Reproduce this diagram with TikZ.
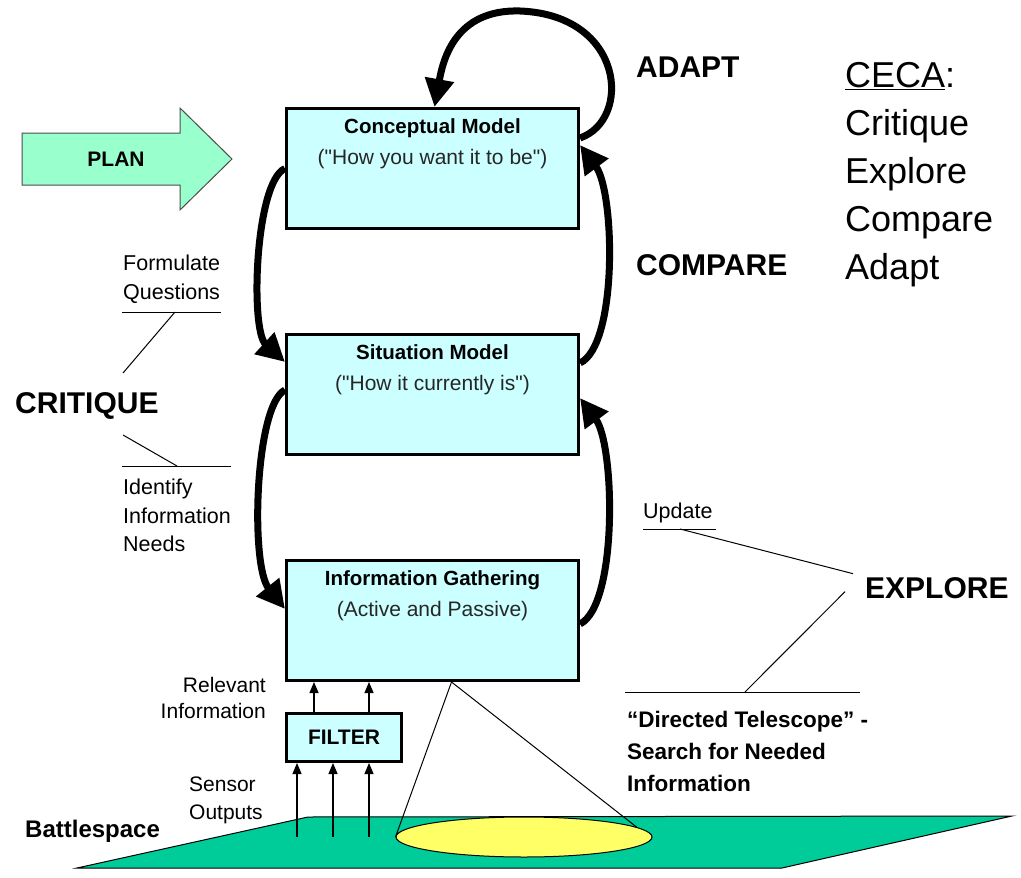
\documentclass[tikz,border=0pt]{standalone}
\usepackage{fontspec}
\setmainfont{Liberation Sans}
\usetikzlibrary{positioning,arrows.meta,shapes.geometric}
\definecolor{boxfill}{HTML}{CCFFFF}
\definecolor{planfill}{HTML}{99FFCC}
\definecolor{fieldfill}{HTML}{00CC99}
\definecolor{spotfill}{HTML}{FFFF66}
\begin{document}
\begin{tikzpicture}[x=1pt, y=-1pt, node distance={103pt},
  box/.style = {draw, line width=3pt, fill=boxfill, minimum width=292pt, minimum height=120pt},
  boxtext/.style = {align=center, inner sep=0pt, text=black!85, font=\fontsize{21}{31}\selectfont},
  filterbox/.style = {draw, line width=3pt, fill=boxfill, minimum width=115pt, minimum height=48pt, font=\bfseries\fontsize{21}{25}\selectfont},
  loop/.style = {line width=7pt, -{Triangle[length=28pt,width=28pt]}},
  sensor/.style = {line width=1.3pt, -{Triangle[length=11pt,width=9pt]}},
  pointer/.style = {line width=1pt},
  note/.style = {inner sep=0pt, align=left, font=\fontsize{21.5}{28.5}\selectfont},
  big/.style = {inner sep=0pt, font=\bfseries\fontsize{30}{36}\selectfont}]
\useasboundingbox (0,0) rectangle (1021,878);

% battlespace
\draw[fill=fieldfill, line width=1pt] (77,868) -- (308,817) -- (1012,816) -- (782,868) -- cycle;
\node[ellipse, draw, fill=spotfill, line width=1pt, inner sep=0pt, minimum width=256pt, minimum height=40pt] (spot) at (524,837) {};
\node[inner sep=0pt, anchor=base west, font=\bfseries\fontsize{24}{28}\selectfont] (field) at (25,837) {Battlespace};

% plan arrow
\draw[fill=planfill, draw=black!70, line width=1pt] (22,133) -- (180,133) -- (180,108) -- (232,159) -- (180,210) -- (180,185) -- (22,185) -- cycle;
\node[inner sep=0pt, font=\bfseries\fontsize{21}{25}\selectfont] (plan) at (116,159) {PLAN};

% model boxes
\node[box] (1) at (432.5,168.5) {};
\node[box] (2) [below=of 1] {};
\node[box] (3) [below=of 2] {};
\node[filterbox] (4) [below=30pt of 3.south west, anchor=north west] {FILTER};
\node[boxtext] (1t) [below=11pt of 1.north] {{\color{black}\bfseries\fontsize{20.5}{31}\selectfont Conceptual Model}\\(\textquotedbl How you want it to be\textquotedbl)};
\node[boxtext] (2t) [below=11pt of 2.north] {{\color{black}\bfseries\fontsize{20.5}{31}\selectfont Situation Model}\\(\textquotedbl How it currently is\textquotedbl)};
\node[boxtext] (3t) [below=11pt of 3.north] {{\color{black}\bfseries\fontsize{20.5}{31}\selectfont Information Gathering}\\(Active and Passive)};

% loops
\draw[loop] ([yshift=-31pt]1.north east) .. controls (632,120) and (625,15) .. (520,11) .. controls (455,9) and (443,60) .. ([xshift=2pt]1.north);
\draw[loop] (1.west) .. controls (255,182) and (250,330) .. ([yshift=-29pt]2.north west);
\draw[loop] ([yshift=-57pt]2.north west) .. controls (255,405) and (250,565) .. ([yshift=-50pt]3.north west);
\draw[loop] ([yshift=-65pt]3.north east) .. controls (618,605) and (615,445) .. ([yshift=-65pt]2.north east);
\draw[loop] ([yshift=-30pt]2.north east) .. controls (618,345) and (615,192) .. ([yshift=-38pt]1.north east);

% sensors and filter
\coordinate (g1) at (297,837);
\coordinate (g2) at (333,837);
\coordinate (g3) at (369,837);
\coordinate (r1) at (314,0);
\coordinate (r2) at (369,0);
\draw[sensor] (g1) -- (g1 |- 4.south);
\draw[sensor] (g2) -- (g2 |- 4.south);
\draw[sensor] (g3) -- (g3 |- 4.south);
\draw[sensor] (r1 |- 4.north) -- (r1 |- 3.south);
\draw[sensor] (r2 |- 4.north) -- (r2 |- 3.south);
\node[note, align=right, anchor=north east, font=\fontsize{21}{26}\selectfont] (relevant) at (266,677) {Relevant\\Information};
\node[note, anchor=north west, font=\fontsize{21}{28}\selectfont] (sensors) at (189,777) {Sensor\\Outputs};

% telescope
\coordinate (apex) at ([xshift=19pt]3.south);
\draw[pointer] (apex) -- (spot.west);
\draw[pointer] (apex) -- (spot.5);

% critique
\node[note, anchor=north west] (formulate) at (123,255) {Formulate\\Questions};
\node[big, anchor=base west] (critique) at (15,413) {CRITIQUE};
\node[note, anchor=north west] (identify) at (123,479) {Identify\\Information\\Needs};
\coordinate (fq) at (175,312);
\coordinate (in) at (177,466);
\draw[pointer] (122,312) -- (221,312);
\draw[pointer] (fq) -- (123,373);
\draw[pointer] (122,466) -- (231,466);
\draw[pointer] (in) -- (123,435);

% compare, adapt, explore
\node[big, anchor=base west] (adapt) at (636,77) {ADAPT};
\node[big, anchor=base west] (compare) at (636,275) {COMPARE};
\node[big, anchor=base west] (explore) at (865,598) {EXPLORE};
\node[note, anchor=base west] (update) at (643,518) {Update};
\node[note, anchor=north west, font=\bfseries\fontsize{22.5}{32}\selectfont] (telescope) at (627,711) {“Directed Telescope” -\\Search for Needed\\Information};
\coordinate (up) at (680,529);
\coordinate (dt) at (745,692);
\draw[pointer] (643,529) -- (716,529);
\draw[pointer] (up) -- ([xshift=-12pt,yshift=14pt]explore.west);
\draw[pointer] (625,692) -- (860,692);
\draw[pointer] (dt) -- ([xshift=-20pt,yshift=-4pt]explore.west);

% ceca
\node[inner sep=0pt, align=left, anchor=north west, font=\fontsize{36}{48}\selectfont] (ceca) at (845,62) {\underline{CECA}:\\Critique\\Explore\\Compare\\Adapt};
\end{tikzpicture}
\end{document}
